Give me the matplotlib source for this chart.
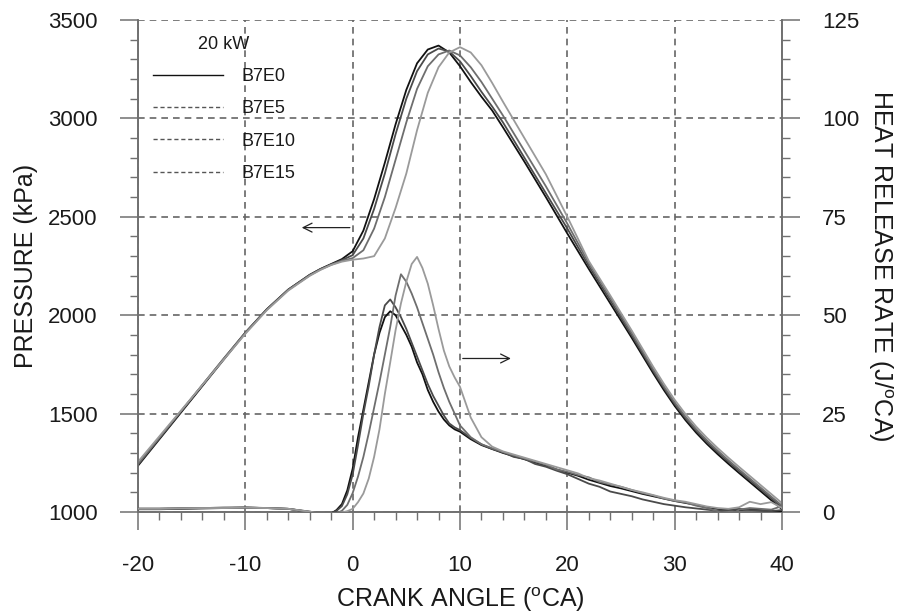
import matplotlib
matplotlib.use("Agg")
import matplotlib.pyplot as plt
from matplotlib.lines import Line2D
from matplotlib.ticker import MultipleLocator

plt.rcParams["font.family"] = ["Liberation Sans", "DejaVu Sans"]
plt.rcParams["mathtext.fontset"] = "custom"
plt.rcParams["mathtext.rm"] = "Liberation Sans"
plt.rcParams["mathtext.it"] = "Liberation Sans:italic"
plt.rcParams["axes.unicode_minus"] = False

labels = ["B7E0", "B7E5", "B7E10", "B7E15"]
colors = ["#111111", "#4a4a4a", "#6e6e6e", "#9a9a9a"]

# Cylinder pressure (kPa) versus crank angle
ca_p = [-20, -18, -16, -14, -12, -10, -8, -6, -4, -3, -2, -1, 0, 1, 2, 3, 4, 5,
        6, 7, 8, 9, 10, 11, 12, 13, 14, 16, 18, 20, 22, 24, 26, 28, 29, 30, 31,
        32, 33, 34, 35, 36, 37, 38, 39, 40]
p_e0 = [1235, 1370, 1505, 1640, 1775, 1910, 2030, 2130, 2205, 2235, 2260, 2285,
        2325, 2430, 2590, 2775, 2970, 3145, 3280, 3350, 3370, 3335, 3265, 3185,
        3110, 3040, 2955, 2780, 2600, 2415, 2235, 2060, 1885, 1705, 1619, 1539,
        1467, 1403, 1346, 1294, 1245, 1198, 1152, 1106, 1060, 1014]
p_e5 = [1240, 1375, 1510, 1645, 1780, 1912, 2030, 2130, 2205, 2234, 2258, 2280,
        2305, 2390, 2540, 2720, 2920, 3100, 3240, 3325, 3355, 3340, 3290, 3215,
        3135, 3060, 2980, 2800, 2620, 2440, 2250, 2075, 1897, 1716, 1630, 1549,
        1477, 1413, 1356, 1304, 1255, 1208, 1162, 1116, 1070, 1024]
p_e10 = [1245, 1378, 1512, 1646, 1780, 1910, 2028, 2128, 2202, 2232, 2256, 2276,
         2290, 2330, 2440, 2600, 2790, 2980, 3150, 3265, 3325, 3345, 3320, 3260,
         3185, 3100, 3015, 2835, 2655, 2465, 2265, 2090, 1910, 1725, 1638, 1557,
         1485, 1421, 1364, 1312, 1263, 1216, 1170, 1124, 1078, 1032]
p_e15 = [1255, 1385, 1515, 1645, 1775, 1905, 2025, 2125, 2200, 2230, 2255, 2272,
         2282, 2288, 2300, 2390, 2545, 2720, 2940, 3130, 3260, 3335, 3362, 3335,
         3270, 3180, 3085, 2900, 2716, 2500, 2275, 2100, 1922, 1738, 1651, 1570,
         1498, 1434, 1377, 1325, 1276, 1229, 1183, 1137, 1091, 1045]

# Heat release rate (J/oCA) versus crank angle
ca_h = [-20, -18, -16, -14, -12, -10, -8, -6, -4, -3, -2, -1.5, -1, -0.5, 0, 0.5,
        1, 1.5, 2, 2.5, 3, 3.5, 4, 4.5, 5, 5.5, 6, 6.5, 7, 7.5, 8, 8.5, 9, 9.5,
        10, 11, 12, 13, 14, 15, 16, 17, 18, 19, 20, 21, 22, 23, 24, 25, 26, 27,
        28, 29, 30, 31, 32, 33, 34, 35, 36, 37, 38, 39, 40]
h_e0 = [0.7, 0.7, 0.8, 0.9, 1.0, 1.1, 1.0, 0.8, 0.0, -0.5, -0.4, 0.5, 2.0, 5.5,
        11.0, 19.0, 26.0, 33.0, 40.0, 45.5, 49.5, 51.0, 50.0, 47.5, 45.0, 42.0,
        38.0, 35.0, 31.0, 28.0, 25.5, 23.5, 22.0, 21.0, 20.4, 18.5, 17.0, 16.0,
        15.0, 14.2, 13.4, 12.6, 11.8, 10.8, 10.0, 9.2, 8.2, 7.4, 6.6, 6.0, 5.3,
        4.6, 4.0, 3.4, 2.8, 2.3, 1.8, 1.2, 0.8, 0.6, 0.5, 0.6, 0.5, 0.3, 0.0]
h_e5 = [0.8, 0.8, 0.9, 1.0, 1.1, 1.1, 1.0, 0.8, 0.1, -0.4, -0.3, 0.3, 1.5, 4.5,
        9.5, 17.0, 25.0, 32.0, 40.0, 47.0, 52.5, 54.0, 52.0, 49.5, 46.5, 43.0,
        39.5, 36.0, 32.5, 29.5, 27.0, 24.5, 22.5, 21.5, 20.8, 18.8, 17.2, 16.0,
        15.2, 14.0, 13.5, 12.2, 11.5, 10.5, 9.6, 8.4, 7.2, 6.4, 5.2, 4.6, 4.0,
        3.2, 2.6, 2.0, 1.6, 1.2, 0.9, 0.6, 0.3, 0.5, 0.8, 0.5, 0.3, 0.2, 0.5]
h_e10 = [0.9, 0.9, 1.0, 1.0, 1.1, 1.2, 1.0, 0.8, 0.0, -0.5, -0.5, -0.3, 0.3, 1.8,
         4.8, 9.0, 14.0, 20.0, 26.5, 33.0, 40.0, 47.0, 55.0, 60.4, 58.5, 55.5,
         52.0, 48.0, 44.0, 40.0, 35.5, 31.5, 28.0, 25.0, 22.0, 19.0, 17.2, 16.2,
         15.2, 14.4, 13.6, 12.8, 12.0, 10.8, 10.2, 9.4, 8.8, 7.6, 7.0, 6.4, 5.6,
         4.8, 4.2, 3.4, 2.8, 2.4, 1.6, 1.0, 0.2, -1.2, 0.6, 1.0, 0.8, 0.6, 1.5]
h_e15 = [0.8, 0.8, 0.9, 1.0, 1.0, 1.1, 1.0, 0.8, 0.1, -0.4, -0.4, -0.3, -0.1, 0.2,
         0.8, 2.5, 4.7, 8.5, 14.0, 21.0, 30.0, 38.0, 46.2, 53.0, 58.5, 63.0,
         64.8, 62.0, 58.0, 52.5, 46.5, 41.0, 37.0, 34.2, 31.8, 24.0, 19.0, 16.6,
         15.4, 14.6, 13.8, 13.0, 12.2, 11.4, 10.6, 9.8, 8.6, 8.0, 7.2, 6.4, 5.6,
         5.0, 4.3, 3.6, 3.0, 2.6, 2.0, 1.4, 1.0, 0.8, 1.2, 2.6, 2.0, 2.5, 1.0]

x_ticks = [-20, -10, 0, 10, 20, 30, 40]
p_ticks = [1000, 1500, 2000, 2500, 3000, 3500]
h_ticks = [0, 25, 50, 75, 100, 125]

axis_gray = "#707070"
text_col = "#1a1a1a"

fig = plt.figure(figsize=(9, 6.15), dpi=100)
ax = fig.add_axes([0.1533, 0.1675, 0.7156, 0.8])
ax2 = ax.twinx()

for p, c in zip([p_e0, p_e5, p_e10, p_e15], colors):
    ax.plot(ca_p, p, color=c, lw=1.3, zorder=3)
for h, c in zip([h_e0, h_e5, h_e10, h_e15], colors):
    ax2.plot(ca_h, h, color=c, lw=1.3, zorder=3)

ax.set_xlim(-20, 40)
ax.set_ylim(1000, 3500)
ax2.set_ylim(0, 125)
ax.set_xticks(x_ticks)
ax.set_yticks(p_ticks)
ax2.set_yticks(h_ticks)
ax.xaxis.set_minor_locator(MultipleLocator(2))
ax.yaxis.set_minor_locator(MultipleLocator(100))
ax2.yaxis.set_minor_locator(MultipleLocator(5))

ax.grid(True, which="major", color="#666666", ls=(0, (4, 3)), lw=1.2)

for a in (ax, ax2):
    for side, sp in a.spines.items():
        sp.set_color(axis_gray)
        sp.set_linewidth(1.2)
    a.spines["top"].set_visible(False)
    a.tick_params(which="major", direction="out", length=13, width=1.1,
                  color=axis_gray, labelsize=16, labelcolor=text_col, pad=16)
    a.tick_params(which="minor", direction="out", length=6, width=1.0,
                  color=axis_gray)
ax.tick_params(axis="x", which="major", pad=18)

ax.set_xlabel("CRANK ANGLE ($^{\\mathrm{o}}$CA)", fontsize=18, color=text_col,
              labelpad=7)
ax.set_ylabel("PRESSURE (kPa)", fontsize=18, color=text_col, labelpad=7)
ax2.set_ylabel("HEAT RELEASE RATE (J/$^{\\mathrm{o}}$CA)", fontsize=18,
               color=text_col, rotation=270, va="center", ha="center")
ax2.yaxis.set_label_coords(1.152, 0.5)

# Arrows pointing each family of curves to its axis
ax.annotate("", xy=(-5, 2445), xytext=(0, 2445),
            arrowprops=dict(arrowstyle="->", lw=0.9, color="#222222",
                            mutation_scale=16))
ax2.annotate("", xy=(15, 39), xytext=(10, 39),
             arrowprops=dict(arrowstyle="->", lw=0.9, color="#222222",
                             mutation_scale=16))

handles = [Line2D([], [], color="#111111", lw=1.0)]
handles += [Line2D([], [], color="#555555", lw=1.0, ls=(0, (3, 2)))
            for _ in labels[1:]]
leg = ax.legend(handles, labels, title="20 kW", loc="upper left",
                bbox_to_anchor=(0.023, 0.968), frameon=False, fontsize=13,
                title_fontsize=13, handlelength=3.9, handletextpad=1.0,
                labelspacing=0.85, borderpad=0, borderaxespad=0)
for t in leg.get_texts():
    t.set_color(text_col)
leg.get_title().set_color(text_col)

fig.savefig("out.png", dpi=100)
